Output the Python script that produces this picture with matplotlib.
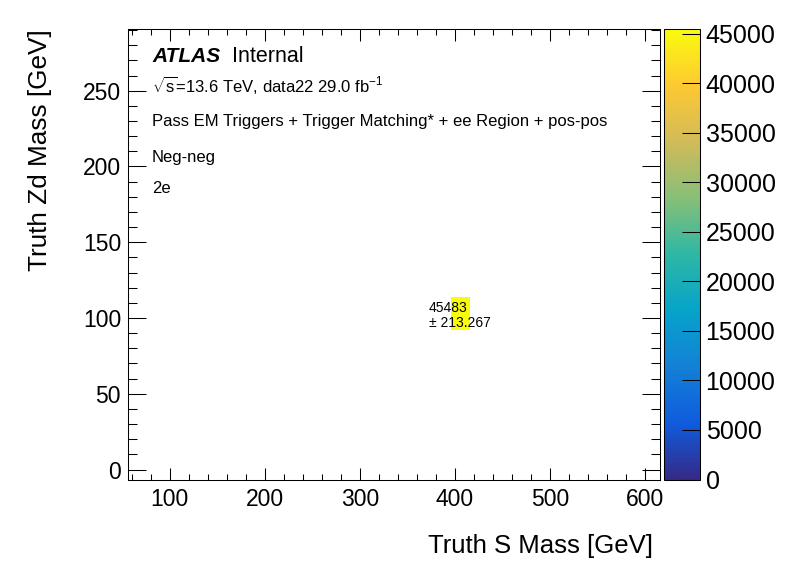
import numpy as np
import matplotlib
matplotlib.use("Agg")
import matplotlib.pyplot as plt
from matplotlib.colors import LinearSegmentedColormap
from matplotlib.ticker import MultipleLocator

# --- data (only one filled bin in this 2D histogram) ---
x_edges = [396, 416]
y_edges = [92, 114]
counts = [[45483]]
errors = [[213.267]]

x_range = (56, 616)
y_range = (-6.6, 290.7)
z_max = 45483

x_title = "Truth S Mass [GeV]"
y_title = "Truth Zd Mass [GeV]"
info_lines = [
    r"$\sqrt{\mathrm{s}}$=13.6 TeV, data22 29.0 fb$^{\mathrm{-1}}$",
    "Pass EM Triggers + Trigger Matching* + ee Region + pos-pos",
    "Neg-neg",
    "2e",
]

# ROOT kBird palette
stops = [0.0000, 0.1250, 0.2500, 0.3750, 0.5000, 0.6250, 0.7500, 0.8750, 1.0000]
red = [0.2082, 0.0592, 0.0780, 0.0232, 0.1802, 0.5301, 0.8186, 0.9956, 0.9764]
green = [0.1664, 0.3599, 0.5041, 0.6419, 0.7178, 0.7492, 0.7328, 0.7862, 0.9832]
blue = [0.5293, 0.8684, 0.8385, 0.7914, 0.6425, 0.4662, 0.3499, 0.1968, 0.0539]
bird = LinearSegmentedColormap.from_list(
    "bird", list(zip(stops, zip(red, green, blue))), N=256)

plt.rcParams['font.family'] = ['Liberation Sans', 'DejaVu Sans']
plt.rcParams['mathtext.fontset'] = 'custom'
plt.rcParams['mathtext.rm'] = 'Liberation Sans'
plt.rcParams['mathtext.it'] = 'Liberation Sans:italic'
plt.rcParams['mathtext.bf'] = 'Liberation Sans:bold'

fig = plt.figure(figsize=(7.96, 5.72), dpi=100)
ax = fig.add_axes([0.1608, 0.1617, 0.6683, 0.7876])
cax = fig.add_axes([0.8342, 0.1617, 0.0452, 0.7876])

z = np.array(counts, dtype=float)
mesh = ax.pcolormesh(x_edges, y_edges, z, cmap=bird, vmin=0, vmax=z_max)

ax.set_xlim(*x_range)
ax.set_ylim(*y_range)

# bin content text
for i in range(len(y_edges) - 1):
    for j in range(len(x_edges) - 1):
        xc = 0.5 * (x_edges[j] + x_edges[j + 1])
        yc = 0.5 * (y_edges[i] + y_edges[i + 1])
        ax.annotate("%d" % counts[i][j], (xc, yc), xytext=(-22.7, 1.0),
                    textcoords='offset points', fontsize=10, ha='left', va='baseline')
        ax.annotate("\u00b1 %g" % errors[i][j], (xc, yc), xytext=(-22.7, -9.6),
                    textcoords='offset points', fontsize=10, ha='left', va='baseline')

# ticks like ROOT
ax.xaxis.set_major_locator(MultipleLocator(100))
ax.xaxis.set_minor_locator(MultipleLocator(20))
ax.yaxis.set_major_locator(MultipleLocator(50))
ax.yaxis.set_minor_locator(MultipleLocator(10))
ax.tick_params(which='both', direction='in', top=True, right=True, width=0.75,
               labelsize=16.5)
ax.tick_params(axis='x', which='major', length=8.4, pad=6)
ax.tick_params(axis='x', which='minor', length=4.3)
ax.tick_params(axis='y', which='major', length=13.3, pad=5)
ax.tick_params(axis='y', which='minor', length=6.5)
for s in ax.spines.values():
    s.set_linewidth(0.75)

ax.set_xlabel(x_title, fontsize=18.5, loc='right')
ax.set_ylabel(y_title, fontsize=18.8, loc='top')
ax.xaxis.set_label_coords(0.987, -0.122)
ax.yaxis.set_label_coords(-0.142, 1.0)

# text block
ax.text(0.0451, 0.9274, "ATLAS", transform=ax.transAxes, fontsize=15,
        fontweight='bold', fontstyle='italic', va='baseline')
ax.text(0.1955, 0.9274, "Internal", transform=ax.transAxes, fontsize=15.5,
        va='baseline')
info_y = [0.861, 0.785, 0.7054, 0.635]
for t, yy in zip(info_lines, info_y):
    ax.text(0.0451, yy, t, transform=ax.transAxes, fontsize=12, va='baseline')

# colour bar
cb = fig.colorbar(mesh, cax=cax)
cb.outline.set_linewidth(0.75)
cax.yaxis.set_major_locator(MultipleLocator(5000))
cax.tick_params(direction='in', length=13, width=0.75, labelsize=18, pad=4)

fig.savefig("out.png", dpi=100)
